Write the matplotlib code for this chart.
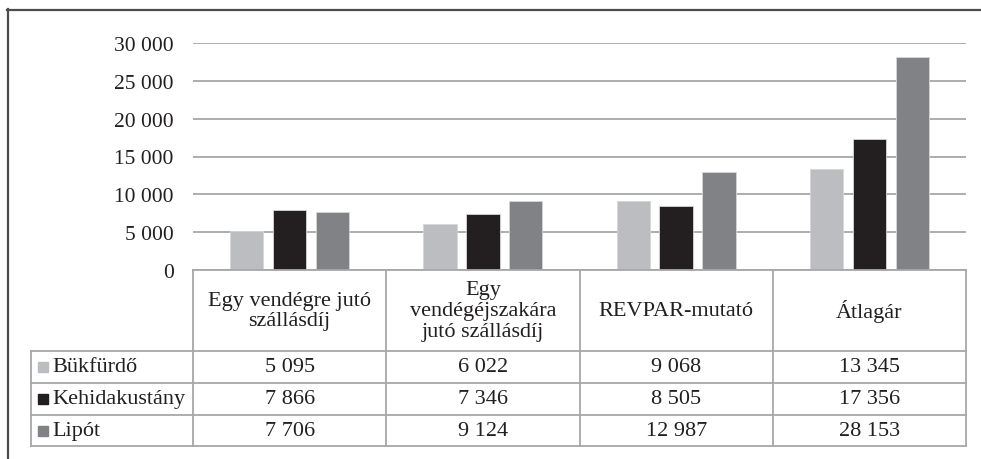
import matplotlib.pyplot as plt
from matplotlib.lines import Line2D
from matplotlib.patches import Rectangle

# Szállásdíj-mutatók (Ft) három fürdőhelyen
categories = ["Egy vendégre jutó\nszállásdíj",
              "Egy\nvendégéjszakára\njutó szállásdíj",
              "REVPAR-mutató",
              "Átlagár"]
series_names = ["Bükfürdő", "Kehidakustány", "Lipót"]
bukfurdo = [5095, 6022, 9068, 13345]
kehidakustany = [7866, 7346, 8505, 17356]
lipot = [7706, 9124, 12987, 28153]
yticks = [0, 5000, 10000, 15000, 20000, 25000, 30000]

series_values = [bukfurdo, kehidakustany, lipot]
colors = ["#bcbdc0", "#231f20", "#808285"]
line_col = "#a7a7a9"
W, H = 981, 460

plt.rcParams["font.family"] = "serif"
plt.rcParams["font.serif"] = ["Liberation Serif", "DejaVu Serif"]
fs = 15.5
fs_tab = 16


def fmt(v):
    return f"{v:,}".replace(",", " ")


fig = plt.figure(figsize=(W / 100, H / 100), dpi=100)

# plot area in pixels
px0, px1, py_top, py_bot = 193, 966, 44, 271
ax = fig.add_axes([px0 / W, 1 - py_bot / H, (px1 - px0) / W, (py_bot - py_top) / H])
n = len(categories)
ax.set_xlim(0, n)
ax.set_ylim(0, 30000)
ax.set_yticks(yticks)
ax.set_yticklabels([fmt(t) for t in yticks], fontsize=fs, color="#231f20")
ax.tick_params(axis="y", length=0, pad=14)
ax.set_xticks([])
ax.grid(axis="y", color=line_col, linewidth=1.3)
ax.set_axisbelow(True)
for s in ax.spines.values():
    s.set_visible(False)

bar_w = 0.173
step = 0.222
for j, vals in enumerate(series_values):
    xs = [i + 0.5 + (j - 1) * step for i in range(n)]
    ax.bar(xs, vals, width=bar_w, color=colors[j], edgecolor="#d6d6d6", linewidth=0.6, zorder=3)

# data table under the plot, drawn on a pixel-space overlay
tab = fig.add_axes([0, 0, 1, 1], facecolor="none")
tab.set_xlim(0, W)
tab.set_ylim(H, 0)
tab.axis("off")

col_w = (px1 - px0) / n
col_edges = [px0 + i * col_w for i in range(n + 1)]
label_x0 = 31
row_edges = [py_bot, 352, 384, 416, 447]


def hline(y, x0, x1):
    tab.add_line(Line2D([x0, x1], [y, y], color=line_col, lw=1.3))


def vline(x, y0, y1):
    tab.add_line(Line2D([x, x], [y0, y1], color=line_col, lw=1.3))


hline(row_edges[0], px0, px1)
for y in row_edges[1:]:
    hline(y, label_x0, px1)
vline(label_x0, row_edges[1], row_edges[-1])
for x in col_edges:
    vline(x, row_edges[0], row_edges[-1])

head_y = (row_edges[0] + row_edges[1]) / 2
for i, cat in enumerate(categories):
    tab.text((col_edges[i] + col_edges[i + 1]) / 2, head_y, cat, ha="center", va="center",
             fontsize=fs_tab, color="#231f20", linespacing=1.12)

for j, (name, vals) in enumerate(zip(series_names, series_values)):
    yc = (row_edges[j + 1] + row_edges[j + 2]) / 2
    tab.add_patch(Rectangle((38, yc - 5), 10, 10, color=colors[j]))
    tab.text(52, yc, name, ha="left", va="center", fontsize=fs_tab, color="#231f20")
    for i, v in enumerate(vals):
        tab.text((col_edges[i] + col_edges[i + 1]) / 2, yc, fmt(v), ha="center", va="center",
                 fontsize=fs_tab, color="#231f20")

# outer frame (top and left edges)
tab.add_line(Line2D([7, W], [10.5, 10.5], color="#4d4d4f", lw=1.6))
tab.add_line(Line2D([7.5, 7.5], [10, H], color="#4d4d4f", lw=1.6))

fig.savefig("out.png", dpi=100, facecolor="white")
